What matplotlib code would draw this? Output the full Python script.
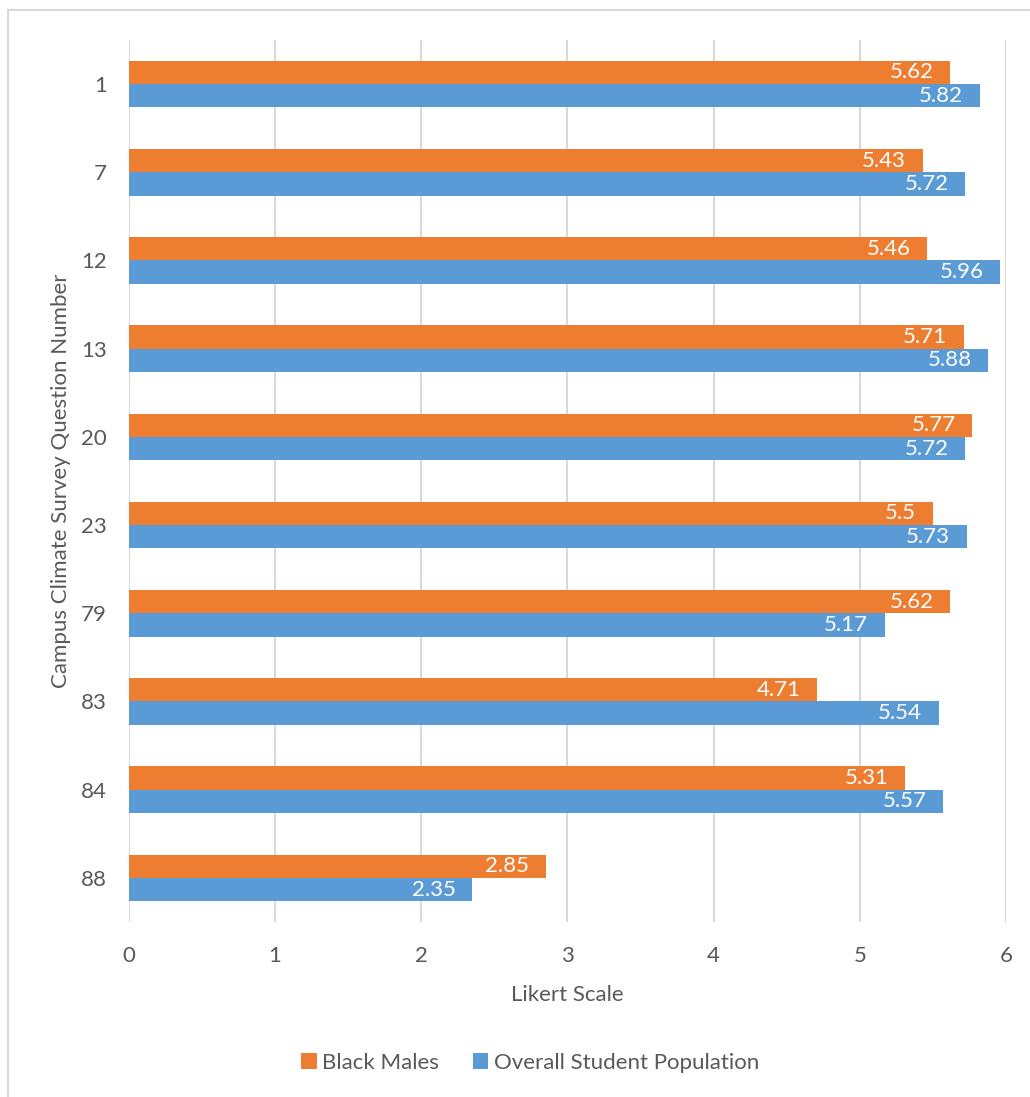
import matplotlib.pyplot as plt
import numpy as np
from matplotlib.lines import Line2D

questions = ["1", "7", "12", "13", "20", "23", "79", "83", "84", "88"]
black_males = [5.62, 5.43, 5.46, 5.71, 5.77, 5.5, 5.62, 4.71, 5.31, 2.85]
overall = [5.82, 5.72, 5.96, 5.88, 5.72, 5.73, 5.17, 5.54, 5.57, 2.35]

orange = "#ED7D31"
blue = "#5B9BD5"
text_grey = "#595959"

plt.rcParams['font.family'] = ['Lato', 'DejaVu Sans']

fig = plt.figure(figsize=(10.3, 10.97), dpi=100)
ax = fig.add_axes([0.1252, 1 - 922 / 1097, 0.8515, 882 / 1097])

y = np.arange(len(questions))
h = 0.265
b1 = ax.barh(y - h / 2, black_males, height=h, color=orange, label="Black Males", zorder=3)
b2 = ax.barh(y + h / 2, overall, height=h, color=blue, label="Overall Student Population", zorder=3)

for bars, vals in [(b1, black_males), (b2, overall)]:
	for rect, v in zip(bars, vals):
		ax.annotate("{:g}".format(v), (v, rect.get_y() + rect.get_height() / 2),
			xytext=(-12, 0), textcoords="offset points", ha="right", va="center",
			color="white", fontsize=16, zorder=4)

ax.set_xlim(0, 6)
ax.set_ylim(len(questions) - 0.5, -0.5)
ax.set_yticks(y)
ax.set_yticklabels(questions)
ax.set_xticks(range(7))
ax.tick_params(axis="both", length=0, labelsize=16, labelcolor=text_grey)
ax.tick_params(axis="y", pad=16)
ax.tick_params(axis="x", pad=17)
ax.grid(axis="x", color="#D9D9D9", linewidth=1.5, zorder=0)
for s in ax.spines.values():
	s.set_visible(False)

ax.set_xlabel("Likert Scale", fontsize=16, color=text_grey, labelpad=14)
ax.set_ylabel("Campus Climate Survey Question Number", fontsize=16, color=text_grey, labelpad=7)

ax.legend(loc="center", bbox_to_anchor=(0.5146, 1 - 1063 / 1097), bbox_transform=fig.transFigure,
	ncol=2, frameon=False, fontsize=16, labelcolor=text_grey,
	handlelength=0.7, handleheight=0.7, handletextpad=0.25, columnspacing=1.5)

# chart frame
fig.add_artist(Line2D([8 / 1030, 1.0], [1 - 10 / 1097, 1 - 10 / 1097], color="#D9D9D9", linewidth=1.5))
fig.add_artist(Line2D([8 / 1030, 8 / 1030], [0, 1 - 10 / 1097], color="#D9D9D9", linewidth=1.5))

plt.savefig("out.png", dpi=100)
